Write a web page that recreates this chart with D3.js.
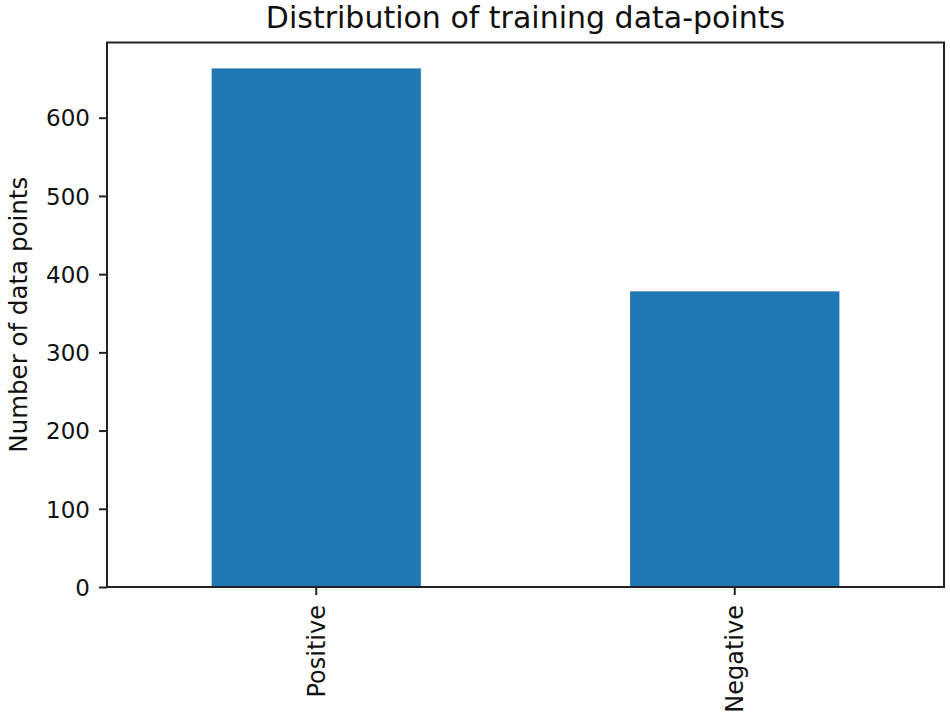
<!DOCTYPE html>
<html>
<head>
<meta charset="utf-8">
<script src="https://cdn.jsdelivr.net/npm/d3@7"></script>
<style>
	body { margin: 0; background: #fff; }
	svg text { font-family: "DejaVu Sans", sans-serif; fill: #111; }
</style>
</head>
<body>
<svg id="bar-plot" width="950" height="726" viewBox="0 0 950 726"></svg>
<script>
// chart data
const categories = ["Positive", "Negative"];
const counts = [663, 378];
const y_ticks = [0, 100, 200, 300, 400, 500, 600];
const title_text = "Distribution of training data-points";
const y_label_text = "Number of data points";

function whenDocumentLoaded(action) {
	if (document.readyState === "loading") {
		document.addEventListener("DOMContentLoaded", action);
	} else {
		action();
	}
}

whenDocumentLoaded(() => {
	const svg = d3.select("#bar-plot");

	// plot area (pixels)
	const left = 107, right = 944, top = 42.5, bottom = 587;

	const x_scale = d3.scaleBand()
		.domain(categories)
		.range([left, right])
		.paddingInner(0.5)
		.paddingOuter(0.25);

	// matplotlib style 5% headroom
	const y_scale = d3.scaleLinear()
		.domain([0, d3.max(counts) * 1.05])
		.range([bottom, top]);

	// bars
	svg.append("g").selectAll(".bar")
		.data(categories)
		.enter()
		.append("rect")
		.classed("bar", true)
		.attr("x", d => x_scale(d))
		.attr("width", x_scale.bandwidth())
		.attr("y", (d, i) => y_scale(counts[i]))
		.attr("height", (d, i) => bottom - y_scale(counts[i]))
		.style("fill", "#1f77b4");

	// y axis
	const y_axis = d3.axisLeft(y_scale)
		.tickValues(y_ticks)
		.tickSize(8)
		.tickPadding(9)
		.tickFormat(d3.format("d"));

	const y_g = svg.append("g")
		.attr("transform", "translate(" + left + ",0)")
		.call(y_axis);
	y_g.select(".domain").remove();
	y_g.selectAll(".tick line").attr("stroke", "#222").attr("stroke-width", 2);
	y_g.selectAll(".tick text")
		.style("font-size", "23px")
		.attr("dy", "0.36em");

	// x axis
	const x_axis = d3.axisBottom(x_scale).tickSize(8).tickSizeOuter(0);
	const x_g = svg.append("g")
		.attr("transform", "translate(0," + bottom + ")")
		.call(x_axis);
	x_g.select(".domain").remove();
	x_g.selectAll(".tick line").attr("stroke", "#222").attr("stroke-width", 2);
	x_g.selectAll(".tick text")
		.style("font-size", "24px")
		.attr("text-anchor", "end")
		.attr("x", 0)
		.attr("y", 0)
		.attr("dy", "0.36em")
		.attr("transform", "translate(0,18) rotate(-90)");

	// frame (spines)
	svg.append("rect")
		.attr("x", left)
		.attr("y", top)
		.attr("width", right - left)
		.attr("height", bottom - top)
		.style("fill", "none")
		.style("stroke", "#222")
		.style("stroke-width", 2);

	// title
	svg.append("text")
		.attr("x", (left + right) / 2)
		.attr("y", 28)
		.attr("text-anchor", "middle")
		.style("font-size", "30px")
		.text(title_text);

	// y label
	svg.append("text")
		.attr("transform", "translate(27," + ((top + bottom) / 2) + ") rotate(-90)")
		.attr("text-anchor", "middle")
		.style("font-size", "24.5px")
		.text(y_label_text);
});
</script>
</body>
</html>
